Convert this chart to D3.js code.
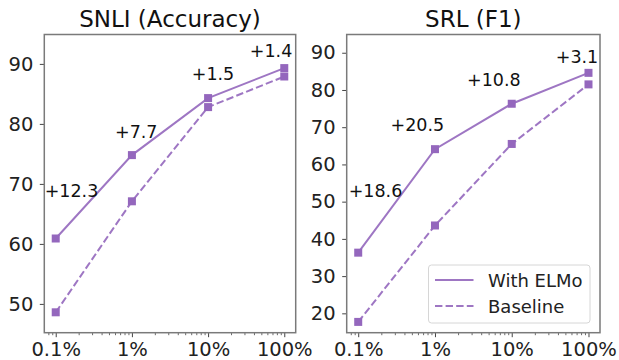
<!DOCTYPE html>
<html>
<head>
<meta charset="utf-8">
<script src="https://cdn.jsdelivr.net/npm/d3@7"></script>
<style>
  body { margin: 0; background: #fff; }
  svg { display: block; font-family: "DejaVu Sans", sans-serif; }
  .tick text { fill: #222; }
</style>
</head>
<body>
<div id="chart"></div>
<script>
// shared x categories (training-set fraction, percent)
const xPercents = [0.1, 1, 10, 100];
const xTickLabels = ['0.1%', '1%', '10%', '100%'];

// SNLI accuracy
const snliElmo = [60.9, 74.8, 84.3, 89.3];
const snliBaseline = [48.6, 67.1, 82.8, 87.9];
const snliYTicks = [50, 60, 70, 80, 90];
const snliGainLabels = ['+12.3', '+7.7', '+1.5', '+1.4'];
const snliGainX = [0.161, 1.14, 11.6, 67.1];
const snliGainY = [67.9, 77.7, 87.25, 91.1];

// SRL F1
const srlElmo = [36.3, 64.1, 76.3, 84.6];
const srlBaseline = [17.7, 43.6, 65.5, 81.5];
const srlYTicks = [20, 30, 40, 50, 60, 70, 80, 90];
const srlGainLabels = ['+18.6', '+20.5', '+10.8', '+3.1'];
const srlGainX = [0.168, 0.59, 5.85, 70.8];
const srlGainY = [51.2, 68.9, 81.0, 87.3];

const seriesNames = ['With ELMo', 'Baseline'];

const color = '#9467bd';
const W = 619, H = 360;

const svg = d3.select('#chart').append('svg')
  .attr('width', W)
  .attr('height', H);

const panels = [
  { title: 'SNLI (Accuracy)', left: 44.3, right: 295.7, yDomain: [45.2, 94.9],
    elmo: snliElmo, base: snliBaseline, yTicks: snliYTicks,
    gains: snliGainLabels, gx: snliGainX, gy: snliGainY, legend: false },
  { title: 'SRL (F1)', left: 346.7, right: 600, yDomain: [14.8, 94.9],
    elmo: srlElmo, base: srlBaseline, yTicks: srlYTicks,
    gains: srlGainLabels, gx: srlGainX, gy: srlGainY, legend: true }
];

const plotTop = 34.5, plotBottom = 332.7;

// minor log ticks 2..9 per decade
const minorTicks = [];
[0.01, 0.1, 1, 10, 100].forEach(d => {
  for (let k = 2; k <= 9; k++) minorTicks.push(d * k);
});

panels.forEach(p => {
  const x = d3.scaleLog()
    .domain([0.1 * Math.pow(10, -0.15), 100 * Math.pow(10, 0.15)])
    .range([p.left, p.right]);
  const y = d3.scaleLinear()
    .domain(p.yDomain)
    .range([plotBottom, plotTop]);

  const g = svg.append('g');

  // minor x ticks
  const minorIn = minorTicks.filter(v => v > x.domain()[0] && v < x.domain()[1]);
  g.append('g')
    .attr('transform', `translate(0,${plotBottom})`)
    .call(d3.axisBottom(x).tickValues(minorIn).tickFormat('').tickSize(2.5))
    .call(a => a.select('.domain').remove())
    .selectAll('line').attr('stroke', '#444').attr('stroke-width', 0.8);

  // major x ticks
  g.append('g')
    .attr('transform', `translate(0,${plotBottom})`)
    .call(d3.axisBottom(x).tickValues(xPercents)
      .tickFormat((d, i) => xTickLabels[i]).tickSize(4.5).tickPadding(5))
    .call(a => a.select('.domain').remove())
    .call(a => a.selectAll('line').attr('stroke', '#444').attr('stroke-width', 1))
    .selectAll('text').attr('font-size', 19.5).attr('font-family', 'DejaVu Sans');

  // y ticks
  g.append('g')
    .attr('transform', `translate(${p.left},0)`)
    .call(d3.axisLeft(y).tickValues(p.yTicks).tickSize(4.5).tickPadding(6.5))
    .call(a => a.select('.domain').remove())
    .call(a => a.selectAll('line').attr('stroke', '#444').attr('stroke-width', 1))
    .selectAll('text').attr('font-size', 19.5).attr('font-family', 'DejaVu Sans');

  // frame
  g.append('rect')
    .attr('x', p.left).attr('y', plotTop)
    .attr('width', p.right - p.left).attr('height', plotBottom - plotTop)
    .attr('fill', 'none').attr('stroke', '#7a7a7a').attr('stroke-width', 1.5);

  // title
  g.append('text')
    .attr('x', (p.left + p.right) / 2).attr('y', 27)
    .attr('text-anchor', 'middle')
    .attr('font-size', 23).attr('fill', '#111')
    .text(p.title);

  const line = d3.line()
    .x((d, i) => x(xPercents[i]))
    .y(d => y(d));

  [[p.base, '7.4,3.2'], [p.elmo, null]].forEach(([vals, dash]) => {
    g.append('path')
      .datum(vals)
      .attr('d', line)
      .attr('fill', 'none')
      .attr('stroke', color)
      .attr('stroke-opacity', 0.9)
      .attr('stroke-width', 2)
      .attr('stroke-dasharray', dash);
    g.selectAll(null)
      .data(vals)
      .join('rect')
      .attr('x', (d, i) => x(xPercents[i]) - 4)
      .attr('y', d => y(d) - 4)
      .attr('width', 8).attr('height', 8)
      .attr('fill', color);
  });

  // gain annotations
  g.selectAll(null)
    .data(p.gains)
    .join('text')
    .attr('x', (d, i) => x(p.gx[i]))
    .attr('y', (d, i) => y(p.gy[i]))
    .attr('text-anchor', 'middle')
    .attr('font-size', 17.5).attr('fill', '#111')
    .text(d => d);

  if (p.legend) {
    const lg = g.append('g');
    lg.append('rect')
      .attr('x', 428.5).attr('y', 265)
      .attr('width', 161.5).attr('height', 58)
      .attr('rx', 3)
      .attr('fill', '#fff').attr('fill-opacity', 0.85)
      .attr('stroke', '#d6d6d6').attr('stroke-width', 1);
    seriesNames.forEach((name, i) => {
      const ly = 280 + i * 26;
      lg.append('line')
        .attr('x1', 435).attr('x2', 473.5)
        .attr('y1', ly).attr('y2', ly)
        .attr('stroke', color).attr('stroke-width', 2).attr('stroke-opacity', 0.9)
        .attr('stroke-dasharray', i === 1 ? '7.4,3.2' : null);
      lg.append('text')
        .attr('x', 488).attr('y', ly + 6.5)
        .attr('font-size', 18).attr('fill', '#222')
        .text(name);
    });
  }
});
</script>
</body>
</html>
